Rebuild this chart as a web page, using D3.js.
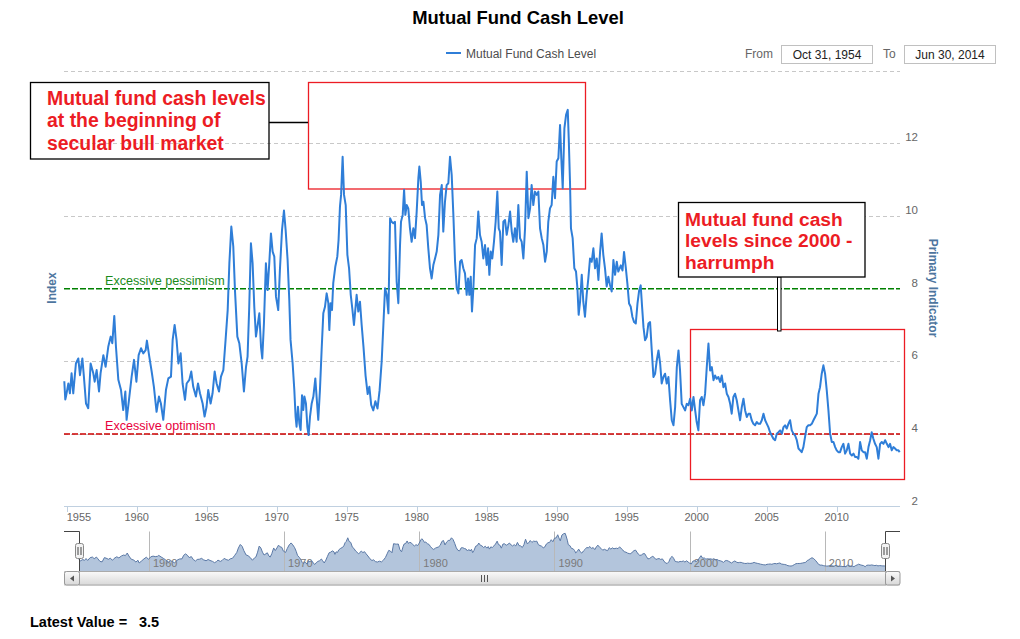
<!DOCTYPE html>
<html><head><meta charset="utf-8">
<script src="https://cdnjs.cloudflare.com/ajax/libs/d3/7.8.5/d3.min.js"></script>
<style>
html,body{margin:0;padding:0;background:#fff;}
svg text{font-family:"Liberation Sans",Arial,sans-serif;}
</style></head>
<body><svg id="c" width="1020" height="639"></svg>
<script>
const chartTitle = "Mutual Fund Cash Level";
const seriesName = "Mutual Fund Cash Level";
const fromLabel = "Oct 31, 1954";
const toLabel = "Jun 30, 2014";
const latestValue = 3.5;
const yTicks = [2, 4, 6, 8, 10, 12];
const gridValues = [4, 6, 10, 12, 14];
const xTicks = [1955, 1960, 1965, 1970, 1975, 1980, 1985, 1990, 1995, 2000, 2005, 2010];
const navTicks = [1960, 1970, 1980, 1990, 2000, 2010];
const pessimismLevel = 8;
const optimismLevel = 4;
const note1Lines = ["Mutual fund cash levels", "at the beginning of", "secular bull market"];
const note2Lines = ["Mutual fund cash", "levels since 2000 -", "harrumph"];
const cashPoints = [
[1954.83,5.45],[1954.90,4.95],[1954.95,5.03],[1955.12,5.39],[1955.23,5.12],[1955.35,5.67],[1955.47,5.12],[1955.66,5.94],[1955.83,6.08],[1955.95,5.62],
[1956.12,6.08],[1956.23,5.58],[1956.38,4.84],[1956.54,4.71],[1956.71,5.94],[1956.90,5.67],[1957.00,5.44],[1957.14,5.76],[1957.31,5.17],[1957.42,5.67],[1957.62,6.17],[1957.78,5.85],[1957.97,6.40],
[1958.14,6.68],[1958.26,6.50],[1958.40,7.25],[1958.52,6.40],[1958.69,5.49],[1958.88,5.21],[1959.04,4.66],[1959.19,5.17],[1959.28,4.39],[1959.45,4.94],[1959.64,5.58],[1959.81,6.04],[1959.98,5.44],
[1960.14,6.17],[1960.31,6.36],[1960.47,6.22],[1960.64,6.31],[1960.73,6.57],[1960.90,6.13],[1961.07,5.72],[1961.23,5.30],[1961.42,4.61],[1961.59,5.03],[1961.73,4.84],[1961.90,4.39],
[1962.09,5.21],[1962.26,5.53],[1962.45,5.58],[1962.57,6.59],[1962.71,7.00],[1962.85,6.59],[1962.98,5.94],[1963.14,6.22],[1963.28,5.39],[1963.45,4.94],[1963.57,5.39],[1963.76,5.49],[1963.90,5.72],
[1964.04,5.30],[1964.23,5.03],[1964.38,5.39],[1964.52,5.12],[1964.71,4.84],[1964.85,4.48],[1964.99,4.75],[1965.11,5.21],[1965.28,4.84],[1965.42,5.12],[1965.57,5.72],[1965.71,5.39],[1965.88,5.17],
[1966.02,5.58],[1966.19,5.76],[1966.35,6.59],[1966.50,7.41],[1966.62,8.70],[1966.76,9.71],[1966.90,9.16],[1967.02,7.96],[1967.19,6.68],[1967.33,6.50],[1967.50,5.94],[1967.66,5.17],[1967.81,5.85],[1967.92,6.13],
[1968.04,7.50],[1968.16,9.25],[1968.28,8.70],[1968.40,7.50],[1968.52,6.68],[1968.66,7.05],[1968.76,7.32],[1968.88,6.40],[1968.97,6.08],[1969.09,7.05],[1969.23,8.70],[1969.35,7.96],[1969.47,8.70],[1969.59,9.52],[1969.71,9.02],[1969.83,8.88],[1969.95,7.78],
[1970.11,7.41],[1970.23,8.51],[1970.38,9.61],[1970.52,10.15],[1970.64,9.61],[1970.78,8.79],[1970.90,7.69],[1970.99,6.59],[1971.14,5.94],[1971.26,5.21],[1971.35,4.48],[1971.42,4.20],[1971.52,4.75],[1971.62,4.29],[1971.71,4.11],[1971.81,5.07],[1971.90,4.66],[1971.98,5.03],
[1972.09,4.84],[1972.19,4.20],[1972.28,3.97],[1972.38,4.48],[1972.50,4.84],[1972.62,5.03],[1972.76,5.53],[1972.85,5.03],[1972.97,4.39],[1973.09,5.21],[1973.21,6.31],[1973.33,7.32],[1973.45,7.50],[1973.57,7.87],[1973.69,7.60],[1973.76,6.86],[1973.85,7.60],[1973.95,7.41],
[1974.04,8.15],[1974.19,8.61],[1974.33,8.88],[1974.42,9.34],[1974.52,10.26],[1974.60,10.58],[1974.71,11.63],[1974.81,10.58],[1974.93,10.30],[1975.05,8.93],[1975.17,8.56],[1975.29,7.83],[1975.40,7.46],[1975.52,7.00],[1975.71,7.83],[1975.83,7.37],[1975.95,7.64],
[1976.07,7.00],[1976.20,6.40],[1976.35,5.60],[1976.50,5.10],[1976.62,5.30],[1976.75,4.80],[1976.90,4.65],[1977.05,4.90],[1977.20,4.70],[1977.35,5.20],[1977.50,6.00],[1977.62,7.00],[1977.74,8.01],[1977.86,7.83],[1977.98,7.32],
[1978.10,9.94],[1978.21,9.84],[1978.33,9.80],[1978.45,9.84],[1978.57,8.19],[1978.69,7.60],[1978.81,9.20],[1978.88,9.84],[1979.00,10.03],[1979.10,10.72],[1979.19,10.03],[1979.29,10.30],[1979.40,10.21],[1979.52,9.66],[1979.64,9.29],[1979.76,9.66],[1979.88,9.39],
[1980.00,10.12],[1980.12,11.04],[1980.19,11.36],[1980.29,10.94],[1980.38,10.30],[1980.48,10.39],[1980.60,9.94],[1980.71,9.75],[1980.83,9.11],[1980.95,8.56],[1981.07,8.28],[1981.19,8.65],[1981.31,8.83],[1981.43,9.02],[1981.55,9.48],[1981.67,10.58],[1981.79,10.85],[1981.90,9.57],
[1982.02,10.39],[1982.14,10.85],[1982.26,10.90],[1982.38,11.63],[1982.50,11.13],[1982.62,10.03],[1982.74,8.74],[1982.86,8.01],[1982.98,7.87],[1983.10,8.74],[1983.21,8.79],[1983.33,8.56],[1983.45,8.42],[1983.57,7.83],[1983.67,8.28],[1983.76,7.83],[1983.86,8.33],[1983.95,7.37],
[1984.05,8.01],[1984.17,9.20],[1984.29,9.39],[1984.40,10.12],[1984.52,9.48],[1984.64,9.29],[1984.76,8.83],[1984.88,9.20],[1985.00,8.65],[1985.10,9.11],[1985.19,8.38],[1985.29,9.02],[1985.40,8.83],[1985.52,9.29],[1985.64,9.84],[1985.76,10.67],[1985.86,9.66],[1985.95,9.57],
[1986.07,8.65],[1986.19,9.84],[1986.31,9.89],[1986.43,9.48],[1986.55,9.75],[1986.67,10.12],[1986.79,9.57],[1986.90,9.29],[1987.02,9.66],[1987.14,9.29],[1987.26,10.30],[1987.38,9.39],[1987.50,9.29],[1987.62,8.83],[1987.74,9.66],[1987.86,11.22],[1987.98,9.94],
[1988.10,10.21],[1988.21,10.85],[1988.33,10.30],[1988.45,10.67],[1988.57,10.58],[1988.69,10.67],[1988.81,9.66],[1988.93,9.39],[1989.05,9.20],[1989.17,8.74],[1989.29,9.02],[1989.40,9.84],[1989.52,10.21],[1989.64,10.30],[1989.76,11.08],[1989.88,10.49],
[1990.00,11.50],[1990.12,11.59],[1990.24,12.50],[1990.33,11.59],[1990.43,10.76],[1990.55,12.41],[1990.67,12.78],[1990.79,12.92],[1990.86,12.14],[1990.95,10.94],[1991.02,9.66],[1991.14,9.39],[1991.26,8.56],[1991.38,8.47],[1991.48,8.01],[1991.57,7.28],[1991.67,7.64],[1991.79,8.38],[1991.90,7.64],
[1992.02,7.23],[1992.14,7.83],[1992.26,8.28],[1992.38,8.83],[1992.50,8.74],[1992.62,9.11],[1992.74,8.56],[1992.86,8.83],[1992.98,8.24],[1993.10,9.02],[1993.21,9.52],[1993.33,8.93],[1993.45,8.56],[1993.57,8.06],[1993.69,8.33],[1993.81,8.10],[1993.93,7.92],
[1994.05,8.79],[1994.17,8.38],[1994.29,8.74],[1994.40,8.47],[1994.58,8.64],[1994.70,8.50],[1994.81,9.01],[1994.93,8.60],[1995.05,8.14],[1995.17,7.59],[1995.29,7.50],[1995.41,7.22],[1995.53,7.08],[1995.65,7.04],[1995.77,7.59],[1995.89,7.95],
[1996.00,8.09],[1996.10,7.50],[1996.20,6.94],[1996.31,6.58],[1996.43,6.67],[1996.55,7.04],[1996.67,7.08],[1996.79,6.30],[1996.91,5.57],[1997.03,5.66],[1997.15,6.03],[1997.27,6.30],[1997.39,5.94],[1997.50,5.39],[1997.62,5.57],[1997.74,5.66],[1997.86,5.39],[1997.98,5.57],
[1998.10,4.93],[1998.22,4.38],[1998.34,4.24],[1998.46,4.74],[1998.58,5.84],[1998.70,6.30],[1998.81,5.75],[1998.93,4.83],[1999.05,4.74],[1999.17,4.65],[1999.29,4.83],[1999.41,4.79],[1999.53,4.97],[1999.65,4.65],[1999.77,5.02],[1999.89,4.65],
[2000.00,4.33],[2000.12,4.10],[2000.24,4.93],[2000.36,5.02],[2000.48,4.79],[2000.60,5.11],[2000.72,5.84],[2000.84,6.49],[2000.96,5.75],[2001.08,5.84],[2001.20,5.48],[2001.31,5.61],[2001.43,5.52],[2001.55,5.57],[2001.67,5.43],[2001.79,5.61],[2001.91,5.29],
[2002.03,5.39],[2002.15,5.11],[2002.27,5.02],[2002.39,4.83],[2002.50,4.56],[2002.62,5.02],[2002.74,5.11],[2002.86,4.93],[2002.98,4.65],[2003.10,4.38],[2003.22,4.74],[2003.34,4.97],[2003.46,4.65],[2003.58,4.47],[2003.70,4.56],[2003.81,4.56],[2003.93,4.38],
[2004.05,4.28],[2004.17,4.24],[2004.29,4.33],[2004.41,4.28],[2004.53,4.28],[2004.65,4.38],[2004.77,4.56],[2004.89,4.38],[2005.01,4.28],[2005.12,4.19],[2005.24,4.05],[2005.36,3.96],[2005.48,3.87],[2005.60,3.83],[2005.72,4.01],[2005.84,4.05],[2005.96,4.10],
[2006.08,4.01],[2006.20,4.19],[2006.31,4.24],[2006.43,4.15],[2006.55,4.28],[2006.67,4.38],[2006.79,4.10],[2006.91,4.01],[2007.03,3.96],[2007.15,3.83],[2007.27,3.60],[2007.39,3.55],[2007.50,3.50],[2007.62,3.64],[2007.74,3.92],[2007.86,4.19],[2007.98,4.24],
[2008.10,4.24],[2008.22,4.28],[2008.34,4.38],[2008.46,4.47],[2008.58,4.56],[2008.70,5.11],[2008.81,5.29],[2008.93,5.66],[2009.05,5.89],[2009.17,5.66],[2009.29,5.20],[2009.41,4.65],[2009.53,4.01],[2009.65,3.78],[2009.77,3.78],[2009.89,3.64],
[2010.00,3.55],[2010.12,3.50],[2010.24,3.50],[2010.36,3.64],[2010.48,3.73],[2010.60,3.46],[2010.72,3.55],[2010.84,3.73],[2010.96,3.46],[2011.08,3.41],[2011.20,3.46],[2011.31,3.37],[2011.43,3.37],[2011.55,3.32],[2011.67,3.78],[2011.79,3.55],[2011.91,3.50],
[2012.03,3.50],[2012.15,3.32],[2012.27,3.64],[2012.39,3.83],[2012.50,4.05],[2012.62,3.87],[2012.74,3.73],[2012.86,3.64],[2012.98,3.32],[2013.10,3.73],[2013.22,3.78],[2013.34,3.73],[2013.46,3.83],[2013.58,3.73],[2013.70,3.64],[2013.81,3.73],[2013.93,3.55],
[2014.05,3.64],[2014.17,3.60],[2014.29,3.55],[2014.41,3.55],[2014.50,3.50]
];

const svg = d3.select("#c");
const startYear = 1954.83, endYear = 2014.5;
const x = d3.scaleLinear().domain([startYear, endYear]).range([64.3, 899.7]);
const y = d3.scaleLinear().domain([2, 14]).range([506.7, 70.6]);
const nx = d3.scaleLinear().domain([startYear, endYear]).range([79, 885.7]);
const navExt = d3.extent(cashPoints, d => d[1]);
const ny = d3.scaleLinear().domain(navExt).range([566.7, 533.3]);
const lineColor = "#2f7ed8";
const redNote = "#ec1c24";

// title
svg.append("text").attr("x", 518).attr("y", 24).attr("text-anchor", "middle")
  .style("font-size", "18.4px").style("font-weight", "bold").attr("fill", "#000").text(chartTitle);

// legend
svg.append("line").attr("x1", 446).attr("x2", 461).attr("y1", 53).attr("y2", 53)
  .attr("stroke", lineColor).attr("stroke-width", 2);
svg.append("text").attr("x", 466).attr("y", 57.5).style("font-size", "12px").attr("fill", "#4d4d4d").text(seriesName);

// range selector
svg.append("text").attr("x", 745).attr("y", 58).style("font-size", "12px").attr("fill", "#666").text("From");
svg.append("rect").attr("x", 781.5).attr("y", 45.5).attr("width", 91).attr("height", 18).attr("fill", "#fff").attr("stroke", "#c0c0c0");
svg.append("text").attr("x", 827).attr("y", 58.5).attr("text-anchor", "middle").style("font-size", "12px").attr("fill", "#222").text(fromLabel);
svg.append("text").attr("x", 883).attr("y", 58).style("font-size", "12px").attr("fill", "#666").text("To");
svg.append("rect").attr("x", 904.5).attr("y", 45.5).attr("width", 91).attr("height", 18).attr("fill", "#fff").attr("stroke", "#c0c0c0");
svg.append("text").attr("x", 950).attr("y", 58.5).attr("text-anchor", "middle").style("font-size", "12px").attr("fill", "#222").text(toLabel);

// grid
svg.append("g").selectAll("line").data(gridValues).join("line")
  .attr("x1", 64).attr("x2", 900).attr("y1", d => Math.round(y(d)) + 0.5).attr("y2", d => Math.round(y(d)) + 0.5)
  .attr("stroke", "#c8c8c8").attr("stroke-dasharray", "4,3");
// x axis line
svg.append("line").attr("x1", 64).attr("x2", 900).attr("y1", 506.5).attr("y2", 506.5).attr("stroke", "#c0d0e0");
const xg = svg.append("g");
xg.selectAll("line").data(xTicks).join("line")
  .attr("x1", d => Math.round(x(d)) + 0.5).attr("x2", d => Math.round(x(d)) + 0.5)
  .attr("y1", 506.5).attr("y2", 512).attr("stroke", "#c0d0e0");
xg.selectAll("text").data(xTicks).join("text")
  .attr("x", d => x(d))
  .attr("text-anchor", (d, i) => i === 0 ? "start" : "middle")
  .attr("y", 521).style("font-size", "11px").attr("fill", "#666").text(d => d);

// y labels right
svg.append("g").selectAll("text").data(yTicks).join("text")
  .attr("x", 918).attr("y", d => y(d) - 2).attr("text-anchor", "end")
  .style("font-size", "11.5px").attr("fill", "#666").text(d => d);

// axis titles
svg.append("text").attr("transform", "translate(56,288) rotate(-90)").attr("text-anchor", "middle")
  .style("font-size", "12px").style("font-weight", "bold").attr("fill", "#4d759e").text("Index");
svg.append("text").attr("transform", "translate(929,288) rotate(90)").attr("text-anchor", "middle")
  .style("font-size", "12px").style("font-weight", "bold").attr("fill", "#4d759e").text("Primary Indicator");

// plot lines
svg.append("line").attr("x1", 64).attr("x2", 900).attr("y1", y(pessimismLevel)).attr("y2", y(pessimismLevel))
  .attr("stroke", "#008000").attr("stroke-width", 1.5).attr("stroke-dasharray", "6,2");
svg.append("text").attr("x", 105).attr("y", y(pessimismLevel) - 4).style("font-size", "12.6px").attr("fill", "#1a8a1a").text("Excessive pessimism");
svg.append("line").attr("x1", 64).attr("x2", 900).attr("y1", y(optimismLevel)).attr("y2", y(optimismLevel))
  .attr("stroke", "#cc0000").attr("stroke-width", 1.5).attr("stroke-dasharray", "6,2");
svg.append("text").attr("x", 105).attr("y", y(optimismLevel) - 4.5).style("font-size", "12.6px").attr("fill", "#e8003d").text("Excessive optimism");

// annotations
svg.append("rect").attr("x", 308.5).attr("y", 82.5).attr("width", 277).attr("height", 106.5)
  .attr("fill", "none").attr("stroke", redNote).attr("stroke-width", 1.3);
svg.append("rect").attr("x", 690.5).attr("y", 329.5).attr("width", 214).attr("height", 150)
  .attr("fill", "none").attr("stroke", redNote).attr("stroke-width", 1.3);

// series line
svg.append("path").datum(cashPoints)
  .attr("d", d3.line().x(d => x(d[0])).y(d => y(d[1])))
  .attr("fill", "none").attr("stroke", lineColor).attr("stroke-width", 2).attr("stroke-linejoin", "round");

// note 1
svg.append("line").attr("x1", 269).attr("x2", 308).attr("y1", 122.5).attr("y2", 122.5).attr("stroke", "#000").attr("stroke-width", 1.3);
svg.append("rect").attr("x", 30.5).attr("y", 82.5).attr("width", 238.5).attr("height", 76.5)
  .attr("fill", "none").attr("stroke", "#000").attr("stroke-width", 1.3);
svg.append("g").selectAll("text").data(note1Lines).join("text")
  .attr("x", 47).attr("y", (d, i) => 104.5 + i * 22.5)
  .style("font-size", "19.4px").style("font-weight", "bold").attr("fill", redNote).text(d => d);

// note 2
svg.append("rect").attr("x", 777.5).attr("y", 277).attr("width", 3.5).attr("height", 54)
  .attr("fill", "#fff").attr("stroke", "#000").attr("stroke-width", 1);
svg.append("rect").attr("x", 678.5).attr("y", 202.5).attr("width", 186.5).attr("height", 74.5)
  .attr("fill", "#fff").attr("stroke", "#000").attr("stroke-width", 1.3);
svg.append("g").selectAll("text").data(note2Lines).join("text")
  .attr("x", 685).attr("y", (d, i) => 225.5 + i * 21.7)
  .style("font-size", "19.2px").style("font-weight", "bold").attr("fill", redNote).text(d => d);

// navigator
const nav = svg.append("g");
nav.append("path").datum(cashPoints)
  .attr("d", d3.area().x(d => nx(d[0])).y0(571).y1(d => ny(d[1])))
  .attr("fill", "#b3c5dc").attr("stroke", "none");
nav.selectAll("line.ng").data(navTicks).join("line").attr("class", "ng")
  .attr("x1", d => Math.round(nx(d)) + 0.5).attr("x2", d => Math.round(nx(d)) + 0.5)
  .attr("y1", 531.5).attr("y2", 571).attr("stroke", "#b8b8b8");
nav.selectAll("text").data(navTicks).join("text")
  .attr("x", d => nx(d) + 4).attr("y", 567).style("font-size", "11px").attr("fill", "#7a7a7a").text(d => d);
nav.append("path").datum(cashPoints)
  .attr("d", d3.line().x(d => nx(d[0])).y(d => ny(d[1])))
  .attr("fill", "none").attr("stroke", "#5b79a6").attr("stroke-width", 1);
nav.append("path").attr("d", "M64,531.5H79.5V571.5H885.5V531.5H900")
  .attr("fill", "none").attr("stroke", "#444").attr("stroke-width", 1);

// scrollbar
const defs = svg.append("defs");
const g1 = defs.append("linearGradient").attr("id", "sb").attr("x1", 0).attr("y1", 0).attr("x2", 0).attr("y2", 1);
g1.append("stop").attr("offset", 0).attr("stop-color", "#fafafa");
g1.append("stop").attr("offset", 1).attr("stop-color", "#d8d8d8");
const g2 = defs.append("linearGradient").attr("id", "tr").attr("x1", 0).attr("y1", 0).attr("x2", 0).attr("y2", 1);
g2.append("stop").attr("offset", 0).attr("stop-color", "#e4e4e4");
g2.append("stop").attr("offset", 1).attr("stop-color", "#f6f6f6");
svg.append("rect").attr("x", 64.5).attr("y", 571.5).attr("width", 835).attr("height", 13.5).attr("fill", "url(#tr)").attr("stroke", "#ccc");
svg.append("rect").attr("x", 79.5).attr("y", 571.5).attr("width", 806).attr("height", 13.5).attr("fill", "url(#sb)").attr("stroke", "#aaa");
[482, 485, 488].forEach(v => svg.append("line").attr("x1", v - 0.5).attr("x2", v - 0.5).attr("y1", 575).attr("y2", 582).attr("stroke", "#555"));
svg.append("rect").attr("x", 64.5).attr("y", 571.5).attr("width", 15).attr("height", 13.5).attr("rx", 2).attr("fill", "url(#sb)").attr("stroke", "#999");
svg.append("path").attr("d", "M74,575.5L70,578.5L74,581.5Z").attr("fill", "#555");
svg.append("rect").attr("x", 885.5).attr("y", 571.5).attr("width", 14.5).attr("height", 13.5).attr("rx", 2).attr("fill", "url(#sb)").attr("stroke", "#999");
svg.append("path").attr("d", "M891,575.5L895,578.5L891,581.5Z").attr("fill", "#555");

// handles
[79.5, 885.5].forEach(cx => {
  svg.append("rect").attr("x", cx - 4).attr("y", 543.5).attr("width", 8).attr("height", 15).attr("rx", 2)
    .attr("fill", "#f2f2f2").attr("stroke", "#888");
  [-1.5, 1.5].forEach(o => svg.append("line").attr("x1", cx + o).attr("x2", cx + o).attr("y1", 547).attr("y2", 555).attr("stroke", "#444"));
});

// latest value
svg.append("text").attr("x", 30).attr("y", 627).style("font-size", "14.5px").style("font-weight", "bold").attr("fill", "#000").text("Latest Value =");
svg.append("text").attr("x", 139).attr("y", 627).style("font-size", "14.5px").style("font-weight", "bold").attr("fill", "#000").text(latestValue.toFixed(1));
</script></body></html>
